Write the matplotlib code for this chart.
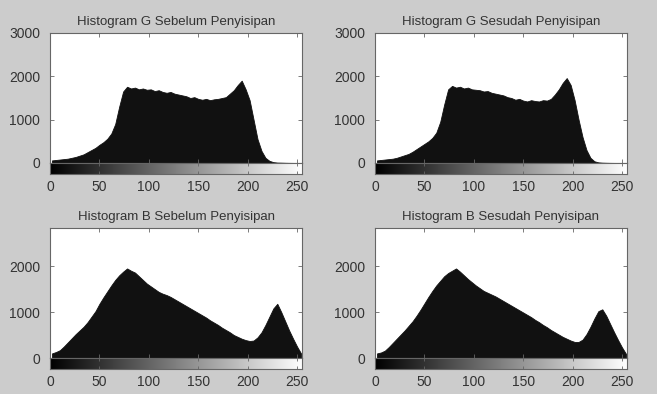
import numpy as np
import matplotlib.pyplot as plt

plt.rcParams['font.family'] = ['Liberation Sans', 'DejaVu Sans']

# gray levels, one value every 4 levels
levels = np.arange(0, 256, 4)

g_before = [60, 70, 80, 90, 100, 120, 140, 170,
            200, 250, 300, 350, 420, 480, 560, 680,
            900, 1300, 1650, 1760, 1720, 1740, 1700, 1720,
            1690, 1700, 1660, 1680, 1640, 1620, 1640, 1600,
            1580, 1560, 1540, 1500, 1520, 1480, 1460, 1480,
            1450, 1470, 1480, 1500, 1520, 1600, 1680, 1800,
            1900, 1700, 1450, 1000, 550, 280, 120, 50,
            20, 10, 8, 5, 3, 2, 1, 0]

g_after = [60, 70, 80, 90, 100, 120, 150, 180,
           210, 260, 320, 380, 440, 500, 580, 700,
           950, 1350, 1700, 1780, 1740, 1760, 1720, 1740,
           1700, 1690, 1680, 1650, 1660, 1620, 1600, 1580,
           1560, 1520, 1500, 1460, 1480, 1440, 1420, 1450,
           1430, 1420, 1450, 1440, 1480, 1580, 1700, 1850,
           1960, 1800, 1450, 1000, 600, 300, 120, 40,
           15, 8, 5, 3, 2, 1, 0, 0]

b_before = [100, 130, 170, 250, 340, 430, 520, 600,
            680, 780, 900, 1020, 1180, 1320, 1450, 1580,
            1700, 1800, 1880, 1950, 1900, 1860, 1780, 1700,
            1620, 1560, 1500, 1440, 1400, 1370, 1330, 1280,
            1230, 1180, 1130, 1080, 1030, 980, 930, 880,
            820, 770, 720, 660, 610, 560, 500, 460,
            420, 390, 370, 380, 450, 560, 720, 900,
            1080, 1180, 1000, 800, 600, 420, 250, 100]

b_after = [100, 120, 160, 240, 330, 420, 510, 600,
           700, 800, 920, 1050, 1190, 1330, 1460, 1580,
           1680, 1780, 1850, 1900, 1950, 1880, 1800, 1720,
           1650, 1580, 1520, 1460, 1420, 1380, 1340, 1290,
           1240, 1190, 1140, 1090, 1040, 990, 940, 890,
           830, 780, 720, 670, 610, 560, 510, 460,
           420, 380, 350, 350, 400, 520, 680, 860,
           1020, 1060, 920, 740, 560, 390, 230, 90]

titles = ['Histogram G Sebelum Penyisipan', 'Histogram G Sesudah Penyisipan',
          'Histogram B Sebelum Penyisipan', 'Histogram B Sesudah Penyisipan']
x_ticks = [0, 50, 100, 150, 200, 250]
y_ticks_g = [0, 1000, 2000, 3000]
y_ticks_b = [0, 1000, 2000]

W, H = 657, 394
text_col = '#333333'
edge_col = '#666666'


def draw_hist(fig, left_px, top_px, counts, title, ymax, yticks):
    w = 252 / W
    h = 130 / H
    cb_h = 11 / H
    left = left_px / W
    bottom = (H - top_px) / H - h

    ax = fig.add_axes([left, bottom, w, h])
    ax.set_facecolor('white')
    # bin centres, filled down to zero
    ax.fill_between(levels + 2, counts, 0, color='#111111', linewidth=0.6,
                    edgecolor='#111111')
    ax.set_xlim(0, 255)
    ax.set_ylim(0, ymax)
    ax.set_xticks(x_ticks)
    ax.set_xticklabels([])
    ax.set_yticks(yticks)
    ax.tick_params(direction='in', top=True, right=True, length=3, width=0.6,
                   color=edge_col, labelcolor=text_col, labelsize=10, pad=7)
    for s in ax.spines.values():
        s.set_color(edge_col)
        s.set_linewidth(0.8)
    ax.set_title(title, fontsize=9.5, pad=6, color=text_col)

    cax = fig.add_axes([left, bottom - cb_h, w, cb_h])
    cax.imshow(np.linspace(0, 1, 256)[None, :], cmap='gray', aspect='auto',
               extent=[0, 255, 0, 1])
    cax.set_xlim(0, 255)
    cax.set_ylim(0, 1)
    cax.set_yticks([])
    cax.set_xticks(x_ticks)
    cax.tick_params(direction='in', top=True, length=2, width=0.6,
                    color=edge_col, labelcolor=text_col, labelsize=10, pad=4)
    for s in cax.spines.values():
        s.set_color(edge_col)
        s.set_linewidth(0.8)


fig = plt.figure(figsize=(W / 100, H / 100), dpi=100, facecolor='#cccccc')

draw_hist(fig, 50, 33, g_before, titles[0], 3000, y_ticks_g)
draw_hist(fig, 375, 33, g_after, titles[1], 3000, y_ticks_g)
draw_hist(fig, 50, 228, b_before, titles[2], 2830, y_ticks_b)
draw_hist(fig, 375, 228, b_after, titles[3], 2830, y_ticks_b)

fig.savefig('out.png', dpi=100, facecolor=fig.get_facecolor())
